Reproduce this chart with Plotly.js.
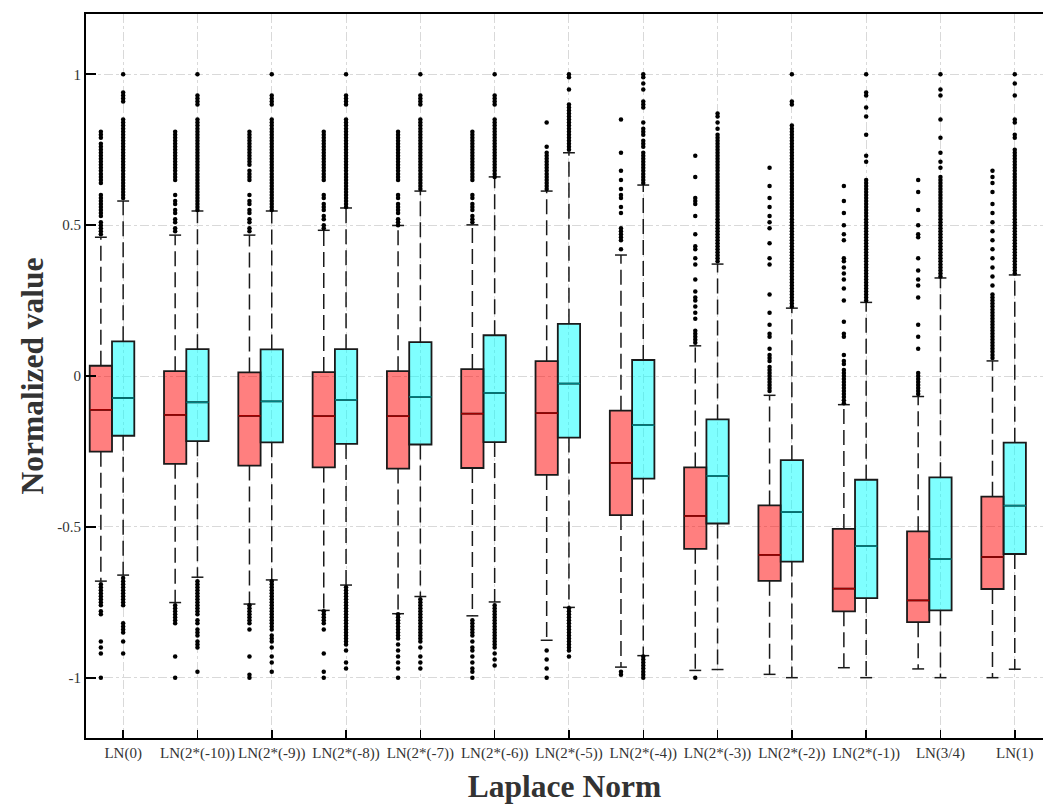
<!DOCTYPE html>
<html>
<head>
<meta charset="utf-8">
<script src="https://cdn.plot.ly/plotly-3.0.1.min.js"></script>
<style>html,body{margin:0;padding:0;background:#fff;}#chart{width:1043px;height:805px;}</style>
</head>
<body>
<div id="chart"></div>
<script>
const categories = ["LN(0)","LN(2*(-10))","LN(2*(-9))","LN(2*(-8))","LN(2*(-7))","LN(2*(-6))","LN(2*(-5))","LN(2*(-4))","LN(2*(-3))","LN(2*(-2))","LN(2*(-1))","LN(3/4)","LN(1)"];

const redQ1  = [-0.251,-0.291,-0.297,-0.303,-0.307,-0.305,-0.328,-0.461,-0.573,-0.679,-0.780,-0.816,-0.706];
const redMed = [-0.112,-0.129,-0.132,-0.133,-0.133,-0.125,-0.123,-0.288,-0.464,-0.593,-0.705,-0.744,-0.600];
const redQ3  = [0.034,0.016,0.012,0.013,0.016,0.023,0.049,-0.115,-0.303,-0.429,-0.507,-0.515,-0.400];
const redLF  = [-0.680,-0.751,-0.756,-0.777,-0.788,-0.795,-0.876,-0.965,-0.976,-0.989,-0.967,-0.971,-1.000];
const redUF  = [0.460,0.467,0.467,0.483,0.499,0.501,0.613,0.401,0.100,-0.064,-0.095,-0.068,0.050];

const cyanQ1  = [-0.198,-0.216,-0.220,-0.225,-0.227,-0.219,-0.204,-0.340,-0.489,-0.615,-0.736,-0.777,-0.590];
const cyanMed = [-0.073,-0.087,-0.084,-0.079,-0.069,-0.056,-0.025,-0.163,-0.331,-0.451,-0.564,-0.607,-0.430];
const cyanQ3  = [0.115,0.089,0.088,0.089,0.112,0.135,0.173,0.053,-0.144,-0.279,-0.344,-0.336,-0.221];
const cyanLF  = [-0.660,-0.667,-0.676,-0.693,-0.731,-0.749,-0.767,-0.927,-0.973,-1.000,-1.000,-1.000,-0.972];
const cyanUF  = [0.580,0.547,0.547,0.557,0.613,0.660,0.740,0.633,0.371,0.225,0.244,0.325,0.335];

const redOutliers = [
  [0.47,0.48,0.49,0.50,0.51,0.53,0.54,0.55,0.56,0.57,0.58,0.59,0.60,0.64,0.65,0.66,0.67,0.68,0.69,0.70,0.71,0.72,0.73,0.74,0.75,0.76,0.77,0.79,0.80,0.81,
   -0.69,-0.70,-0.71,-0.72,-0.73,-0.74,-0.75,-0.76,-0.78,-0.79,-0.88,-0.90,-0.92,-1.0],
  [0.48,0.49,0.51,0.52,0.54,0.55,0.57,0.58,0.60,0.65,0.66,0.67,0.68,0.69,0.70,0.71,0.72,0.73,0.74,0.75,0.76,0.77,0.78,0.79,0.80,0.81,
   -0.76,-0.77,-0.78,-0.79,-0.80,-0.81,-0.82,-0.93,-1.0],
  [0.48,0.49,0.51,0.52,0.54,0.55,0.57,0.58,0.60,0.65,0.66,0.67,0.68,0.70,0.71,0.72,0.73,0.74,0.75,0.76,0.77,0.78,0.79,0.80,0.81,
   -0.76,-0.77,-0.78,-0.79,-0.80,-0.81,-0.82,-0.84,-0.93,-0.99,-1.0],
  [0.49,0.50,0.52,0.53,0.55,0.56,0.57,0.59,0.60,0.65,0.66,0.67,0.68,0.69,0.70,0.71,0.72,0.73,0.74,0.75,0.76,0.77,0.78,0.79,0.80,0.81,
   -0.78,-0.79,-0.80,-0.81,-0.82,-0.84,-0.92,-0.98,-1.0],
  [0.50,0.51,0.52,0.54,0.55,0.56,0.57,0.59,0.60,0.65,0.66,0.67,0.68,0.69,0.70,0.71,0.72,0.73,0.74,0.75,0.76,0.77,0.78,0.79,0.80,0.81,
   -0.79,-0.80,-0.81,-0.82,-0.83,-0.84,-0.85,-0.86,-0.87,-0.89,-0.91,-0.93,-0.95,-0.97,-1.0],
  [0.51,0.52,0.53,0.55,0.56,0.57,0.59,0.60,0.65,0.66,0.67,0.68,0.69,0.70,0.71,0.72,0.73,0.74,0.75,0.76,0.77,0.78,0.79,0.80,0.81,
   -0.81,-0.82,-0.83,-0.84,-0.85,-0.86,-0.88,-0.90,-0.91,-0.93,-0.95,-0.97,-0.98,-1.0],
  [0.62,0.63,0.64,0.65,0.66,0.67,0.68,0.69,0.70,0.71,0.72,0.73,0.74,0.76,0.84,
   -0.91,-0.94,-0.97,-1.0],
  [0.42,0.45,0.46,0.47,0.48,0.49,0.54,0.56,0.59,0.60,0.62,0.65,0.68,0.74,0.85,
   -0.98,-0.99],
  [0.11,0.12,0.13,0.14,0.15,0.19,0.21,0.23,0.25,0.26,0.28,0.32,0.37,0.39,0.42,0.43,0.47,0.53,0.57,0.58,0.59,0.66,0.73,
   -1.0],
  [-0.05,-0.04,-0.03,-0.02,-0.01,0.0,0.01,0.02,0.03,0.05,0.06,0.07,0.09,0.13,0.14,0.17,0.21,0.27,0.37,0.39,0.44,0.49,0.51,0.53,0.56,0.59,0.63,0.69],
  [-0.09,-0.08,-0.07,-0.06,-0.05,-0.04,-0.03,-0.02,-0.01,0.0,0.01,0.02,0.04,0.05,0.07,0.13,0.14,0.18,0.25,0.29,0.32,0.34,0.36,0.38,0.39,0.45,0.47,0.50,0.54,0.58,0.63],
  [-0.06,-0.05,-0.04,-0.03,-0.02,-0.01,0.0,0.01,0.09,0.13,0.17,0.26,0.30,0.32,0.35,0.39,0.46,0.47,0.50,0.55,0.61,0.65],
  [0.06,0.07,0.08,0.09,0.10,0.11,0.12,0.13,0.14,0.15,0.16,0.17,0.18,0.19,0.20,0.21,0.22,0.23,0.24,0.25,0.26,0.27,0.30,0.33,0.36,0.39,0.42,0.45,0.48,0.51,0.54,0.57,0.61,0.64,0.66,0.68]
];

const cyanOutliers = [
  [0.59,0.60,0.61,0.62,0.63,0.64,0.65,0.66,0.67,0.68,0.69,0.70,0.71,0.72,0.73,0.74,0.75,0.76,0.77,0.78,0.79,0.80,0.81,0.82,0.83,0.84,0.85,0.91,0.92,0.93,0.94,1.0,
   -0.67,-0.68,-0.69,-0.70,-0.71,-0.72,-0.73,-0.74,-0.75,-0.76,-0.82,-0.83,-0.84,-0.85,-0.88,-0.92],
  [0.55,0.56,0.57,0.58,0.59,0.60,0.61,0.62,0.63,0.64,0.65,0.66,0.67,0.68,0.69,0.70,0.71,0.72,0.73,0.74,0.75,0.76,0.77,0.78,0.79,0.80,0.81,0.82,0.83,0.84,0.85,0.90,0.91,0.92,0.93,1.0,
   -0.68,-0.69,-0.70,-0.71,-0.72,-0.73,-0.74,-0.75,-0.76,-0.77,-0.78,-0.79,-0.81,-0.82,-0.84,-0.85,-0.86,-0.88,-0.89,-0.90,-0.98],
  [0.55,0.56,0.57,0.58,0.59,0.60,0.61,0.62,0.63,0.64,0.65,0.66,0.67,0.68,0.69,0.70,0.71,0.72,0.73,0.74,0.75,0.76,0.77,0.78,0.79,0.80,0.81,0.82,0.83,0.84,0.85,0.90,0.91,0.92,0.93,1.0,
   -0.68,-0.69,-0.70,-0.71,-0.72,-0.73,-0.74,-0.75,-0.76,-0.77,-0.78,-0.79,-0.80,-0.81,-0.82,-0.83,-0.84,-0.86,-0.87,-0.88,-0.90,-0.93,-0.95,-0.98],
  [0.56,0.57,0.58,0.59,0.60,0.61,0.62,0.63,0.64,0.65,0.66,0.67,0.68,0.69,0.70,0.71,0.72,0.73,0.74,0.75,0.76,0.77,0.78,0.79,0.80,0.81,0.82,0.83,0.84,0.85,0.90,0.91,0.92,0.93,1.0,
   -0.70,-0.71,-0.72,-0.73,-0.74,-0.75,-0.76,-0.77,-0.78,-0.79,-0.80,-0.81,-0.82,-0.83,-0.84,-0.85,-0.86,-0.87,-0.88,-0.89,-0.91,-0.95,-0.97],
  [0.62,0.63,0.64,0.65,0.66,0.67,0.68,0.69,0.70,0.71,0.72,0.73,0.74,0.75,0.76,0.77,0.78,0.79,0.80,0.81,0.82,0.83,0.84,0.85,0.90,0.91,0.92,0.93,1.0,
   -0.74,-0.75,-0.76,-0.77,-0.78,-0.79,-0.80,-0.81,-0.82,-0.83,-0.84,-0.85,-0.86,-0.87,-0.88,-0.90,-0.93,-0.95,-0.97],
  [0.66,0.67,0.68,0.69,0.70,0.71,0.72,0.73,0.74,0.75,0.76,0.77,0.78,0.79,0.80,0.81,0.82,0.83,0.84,0.85,0.90,0.91,0.92,0.93,1.0,
   -0.76,-0.77,-0.78,-0.79,-0.80,-0.81,-0.82,-0.83,-0.84,-0.85,-0.86,-0.87,-0.88,-0.89,-0.90,-0.92,-0.94,-0.96],
  [0.75,0.76,0.77,0.78,0.79,0.80,0.81,0.82,0.83,0.84,0.85,0.86,0.87,0.88,0.89,0.90,0.95,0.99,1.0,
   -0.77,-0.78,-0.79,-0.80,-0.81,-0.82,-0.83,-0.84,-0.85,-0.86,-0.87,-0.88,-0.89,-0.90,-0.91,-0.93],
  [0.64,0.65,0.66,0.67,0.68,0.69,0.70,0.71,0.72,0.73,0.74,0.76,0.77,0.78,0.80,0.81,0.82,0.84,0.89,0.90,0.91,0.95,0.97,0.99,1.0,
   -0.93,-0.94,-0.95,-0.96,-0.97,-0.98,-0.99,-1.0],
  [0.38,0.39,0.40,0.41,0.42,0.43,0.44,0.45,0.46,0.47,0.48,0.49,0.50,0.51,0.52,0.53,0.54,0.55,0.56,0.57,0.58,0.59,0.60,0.61,0.62,0.63,0.64,0.65,0.66,0.67,0.68,0.69,0.70,0.71,0.72,0.73,0.74,0.75,0.76,0.77,0.78,0.79,0.80,0.82,0.84,0.86,0.87],
  [0.23,0.24,0.25,0.26,0.27,0.28,0.29,0.30,0.31,0.32,0.33,0.34,0.35,0.36,0.37,0.38,0.39,0.40,0.41,0.42,0.43,0.44,0.45,0.46,0.47,0.48,0.49,0.50,0.51,0.52,0.53,0.54,0.55,0.56,0.57,0.58,0.59,0.60,0.61,0.62,0.63,0.64,0.65,0.66,0.67,0.68,0.69,0.70,0.71,0.72,0.73,0.74,0.75,0.76,0.77,0.78,0.79,0.80,0.81,0.82,0.83,0.90,0.91,1.0],
  [0.25,0.26,0.27,0.28,0.29,0.30,0.31,0.32,0.33,0.34,0.35,0.36,0.37,0.38,0.39,0.40,0.41,0.42,0.43,0.44,0.45,0.46,0.47,0.48,0.49,0.50,0.51,0.52,0.53,0.54,0.55,0.56,0.57,0.58,0.59,0.60,0.61,0.62,0.63,0.64,0.65,0.71,0.73,0.80,0.86,0.89,0.93,0.94,1.0],
  [0.33,0.34,0.35,0.36,0.37,0.38,0.39,0.40,0.41,0.42,0.43,0.44,0.45,0.46,0.47,0.48,0.49,0.50,0.51,0.52,0.53,0.54,0.55,0.56,0.57,0.58,0.59,0.60,0.61,0.62,0.63,0.64,0.65,0.66,0.69,0.71,0.74,0.79,0.85,0.93,0.95,1.0],
  [0.34,0.35,0.36,0.37,0.38,0.39,0.40,0.41,0.42,0.43,0.44,0.45,0.46,0.47,0.48,0.49,0.50,0.51,0.52,0.53,0.54,0.55,0.56,0.57,0.58,0.59,0.60,0.61,0.62,0.63,0.64,0.65,0.66,0.67,0.68,0.69,0.70,0.71,0.72,0.73,0.74,0.75,0.79,0.80,0.84,0.85,0.93,0.97,1.0]
];

const yTickVals = [-1, -0.5, 0, 0.5, 1];
const yTickText = ["-1", "-0.5", "0", "0.5", "1"];

const FONT = "Liberation Serif";
const BOX_W = 0.3, RED_OFFSET = -0.3, CAP_HALF = 0.08;
const idx = categories.map((_, i) => i);

function buildSeries(offset, q1, med, q3, lf, uf, outl, fill, medColor) {
  const pos = idx.map(i => i + offset);
  const traces = [];
  const wx = [], wy = [], cx = [], cy = [], mx = [], my = [], ox = [], oy = [];
  pos.forEach((p, i) => {
    wx.push(p, p, null, p, p, null);
    wy.push(q3[i], uf[i], null, q1[i], lf[i], null);
    cx.push(p - CAP_HALF, p + CAP_HALF, null, p - CAP_HALF, p + CAP_HALF, null);
    cy.push(uf[i], uf[i], null, lf[i], lf[i], null);
    mx.push(p - BOX_W / 2, p + BOX_W / 2, null);
    my.push(med[i], med[i], null);
    outl[i].forEach(v => { ox.push(p); oy.push(v); });
  });
  traces.push({type: 'scatter', mode: 'lines', x: wx, y: wy, line: {color: '#1a1a1a', width: 1.5, dash: '15px,6px'}, hoverinfo: 'skip', showlegend: false});
  traces.push({type: 'scatter', mode: 'lines', x: cx, y: cy, line: {color: '#1a1a1a', width: 1.5}, hoverinfo: 'skip', showlegend: false});
  traces.push({type: 'box', x: pos, q1: q1, median: med, q3: q3, lowerfence: q1, upperfence: q3,
    width: BOX_W, fillcolor: fill, line: {color: '#1a1a1a', width: 1.8}, boxpoints: false, whiskerwidth: 0,
    hoverinfo: 'skip', showlegend: false});
  traces.push({type: 'scatter', mode: 'lines', x: mx, y: my, line: {color: medColor, width: 1.6}, hoverinfo: 'skip', showlegend: false});
  traces.push({type: 'scatter', mode: 'markers', x: ox, y: oy, marker: {color: '#000', size: 4.5}, hoverinfo: 'skip', showlegend: false});
  return traces;
}

const data = [].concat(
  buildSeries(RED_OFFSET, redQ1, redMed, redQ3, redLF, redUF, redOutliers, 'rgba(255,0,0,0.5)', '#a00000'),
  buildSeries(0, cyanQ1, cyanMed, cyanQ3, cyanLF, cyanUF, cyanOutliers, 'rgba(0,255,255,0.5)', '#008080')
);

const layout = {
  width: 1043, height: 805,
  margin: {l: 86, r: 0, t: 14, b: 67},
  paper_bgcolor: '#fff', plot_bgcolor: '#fff',
  showlegend: false,
  boxmode: 'overlay',
  font: {family: FONT, color: '#333', size: 15},
  xaxis: {
    range: [-0.5, 12.38], tickmode: 'array', tickvals: idx, ticktext: categories,
    ticks: 'inside', ticklen: 8, tickwidth: 1.5, tickcolor: '#000',
    showline: true, linewidth: 2, linecolor: '#000', mirror: true,
    showgrid: true, gridcolor: '#d9d9d9', gridwidth: 1, griddash: 'dashdot',
    zeroline: false, tickfont: {family: FONT, size: 15, color: '#333'},
    title: {text: 'Laplace Norm', font: {family: FONT, size: 31.5, color: '#333', weight: 'bold'}, standoff: 14},
    automargin: false
  },
  yaxis: {
    range: [-1.2, 1.2], tickmode: 'array', tickvals: yTickVals, ticktext: yTickText,
    ticks: 'inside', ticklen: 10, tickwidth: 2, tickcolor: '#000',
    showline: true, linewidth: 2, linecolor: '#000', mirror: false,
    showgrid: true, gridcolor: '#d9d9d9', gridwidth: 1, griddash: 'dashdot',
    zeroline: false, tickfont: {family: FONT, size: 15, color: '#333'},
    title: {text: 'Normalized value', font: {family: FONT, size: 31.5, color: '#333', weight: 'bold'}, standoff: 4},
    automargin: false
  }
};

Plotly.newPlot('chart', data, layout, {displayModeBar: false, staticPlot: true});
</script>
</body>
</html>
